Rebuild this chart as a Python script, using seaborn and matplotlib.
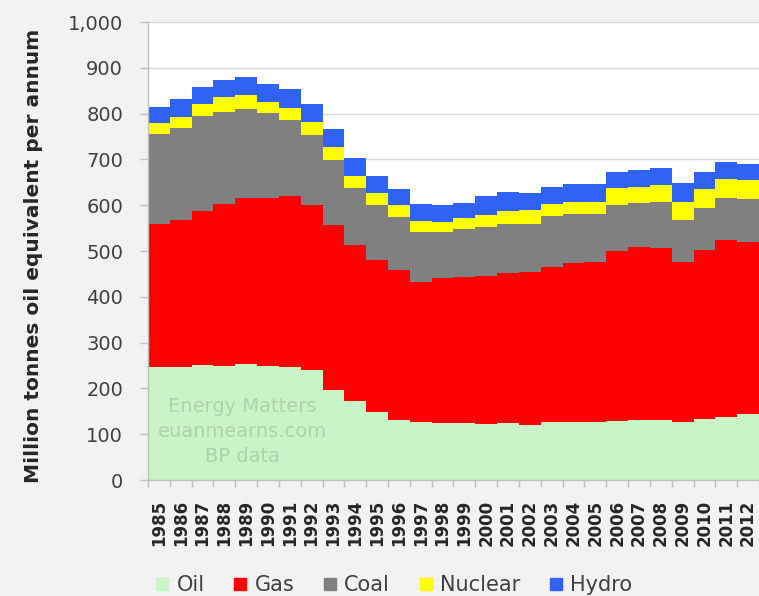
import matplotlib
matplotlib.use("Agg")
import numpy as np
import pandas as pd
import matplotlib.pyplot as plt
import seaborn as sns
from matplotlib.lines import Line2D
from matplotlib.ticker import FuncFormatter

# Primary energy consumption by fuel, million tonnes oil equivalent
years = list(range(1985, 2013))
oil = [247, 247, 251, 249, 253, 250, 246, 240, 197, 172, 149, 130, 127, 124,
       124, 123, 124, 121, 127, 126, 126, 129, 131, 130, 126, 133, 138, 145]
gas = [313, 321, 337, 354, 362, 365, 374, 360, 360, 341, 331, 329, 306, 316,
       319, 322, 329, 334, 339, 348, 351, 372, 378, 376, 351, 369, 385, 375]
coal = [195, 200, 207, 201, 194, 186, 165, 153, 142, 124, 120, 116, 108, 102,
        104, 108, 107, 105, 110, 107, 104, 99, 95, 102, 91, 91, 92, 93]
nuclear = [24, 24, 25, 33, 32, 25, 28, 29, 27, 27, 26, 25, 25, 22,
           24, 26, 28, 30, 27, 27, 27, 37, 36, 36, 40, 42, 42, 42]
hydro = [36, 39, 39, 36, 38, 39, 40, 40, 40, 38, 38, 35, 37, 36,
         34, 40, 40, 36, 36, 38, 38, 36, 37, 38, 40, 37, 37, 36]

fuels = ["Oil", "Gas", "Coal", "Nuclear", "Hydro"]
colors = {"Oil": "#c8f5c8", "Gas": "#ff0000", "Coal": "#808080",
          "Nuclear": "#ffff00", "Hydro": "#2f62f5"}

df = pd.DataFrame({"Year": [str(y) for y in years], "Oil": oil, "Gas": gas,
                   "Coal": coal, "Nuclear": nuclear, "Hydro": hydro})
cum = df[fuels].cumsum(axis=1)
cum["Year"] = df["Year"]

sns.set_style("white")
plt.rcParams["font.family"] = ["DejaVu Sans"]

W, H = 759, 596
fig = plt.figure(figsize=(W / 100, H / 100), dpi=100, facecolor="#f2f2f2")
ax = fig.add_axes([148 / W, 116 / H, 611 / W, 458 / H])
ax.set_facecolor("white")

# Stack by drawing cumulative totals from the top layer down
for fuel in reversed(fuels):
    sns.barplot(data=cum, x="Year", y=fuel, color=colors[fuel], width=1.0,
                saturation=1, linewidth=0, errorbar=None, ax=ax, zorder=2)

ax.set_ylim(0, 1000)
ax.set_xlim(-0.5, len(years) - 0.55)
ax.set_yticks(range(0, 1001, 100))
ax.yaxis.set_major_formatter(FuncFormatter(lambda v, p: f"{int(v):,}"))
ax.yaxis.grid(True, color="#d9d9d9", linewidth=1, zorder=0)
ax.set_axisbelow(True)

for side in ["top", "right"]:
    ax.spines[side].set_visible(False)
for side in ["left", "bottom"]:
    ax.spines[side].set_color("#bfbfbf")
    ax.spines[side].set_linewidth(1)
    ax.spines[side].set_zorder(3)

ax.tick_params(axis="y", which="major", direction="out", length=6, width=1,
               color="#bfbfbf", labelsize=14, labelcolor="#404040", pad=12, left=True)
ax.set_xticks(range(len(years)))
ax.set_xticklabels(df["Year"], rotation=90, fontweight="bold", fontsize=12,
                   color="#262626")
ax.set_xticks(np.arange(-0.5, len(years), 1.0), minor=True)
ax.tick_params(axis="x", which="major", length=0, pad=14, bottom=True)
ax.tick_params(axis="x", which="minor", direction="out", length=5, width=1,
               color="#bfbfbf", bottom=True)

ax.set_xlabel("")
ax.set_ylabel("Million tonnes oil equivalent per annum", fontsize=14.5,
              fontweight="bold", color="#262626")
ax.yaxis.set_label_coords(-0.172, 0.49)

ax.text(0.155, 0.105, "Energy Matters\neuanmearns.com\nBP data",
        transform=ax.transAxes, ha="center", va="center", fontsize=14,
        color="#aed2ae", linespacing=1.4, zorder=5)

handles = [Line2D([], [], marker="s", linestyle="", markersize=9,
                  color=colors[f]) for f in fuels]
leg = fig.legend(handles, fuels, loc="center", bbox_to_anchor=(393 / W, 11 / H),
                 ncol=5, frameon=False, fontsize=15, handlelength=0.8,
                 handletextpad=0.3, columnspacing=1.3)
for t in leg.get_texts():
    t.set_color("#404040")

fig.savefig("out.png", dpi=100, facecolor=fig.get_facecolor())
